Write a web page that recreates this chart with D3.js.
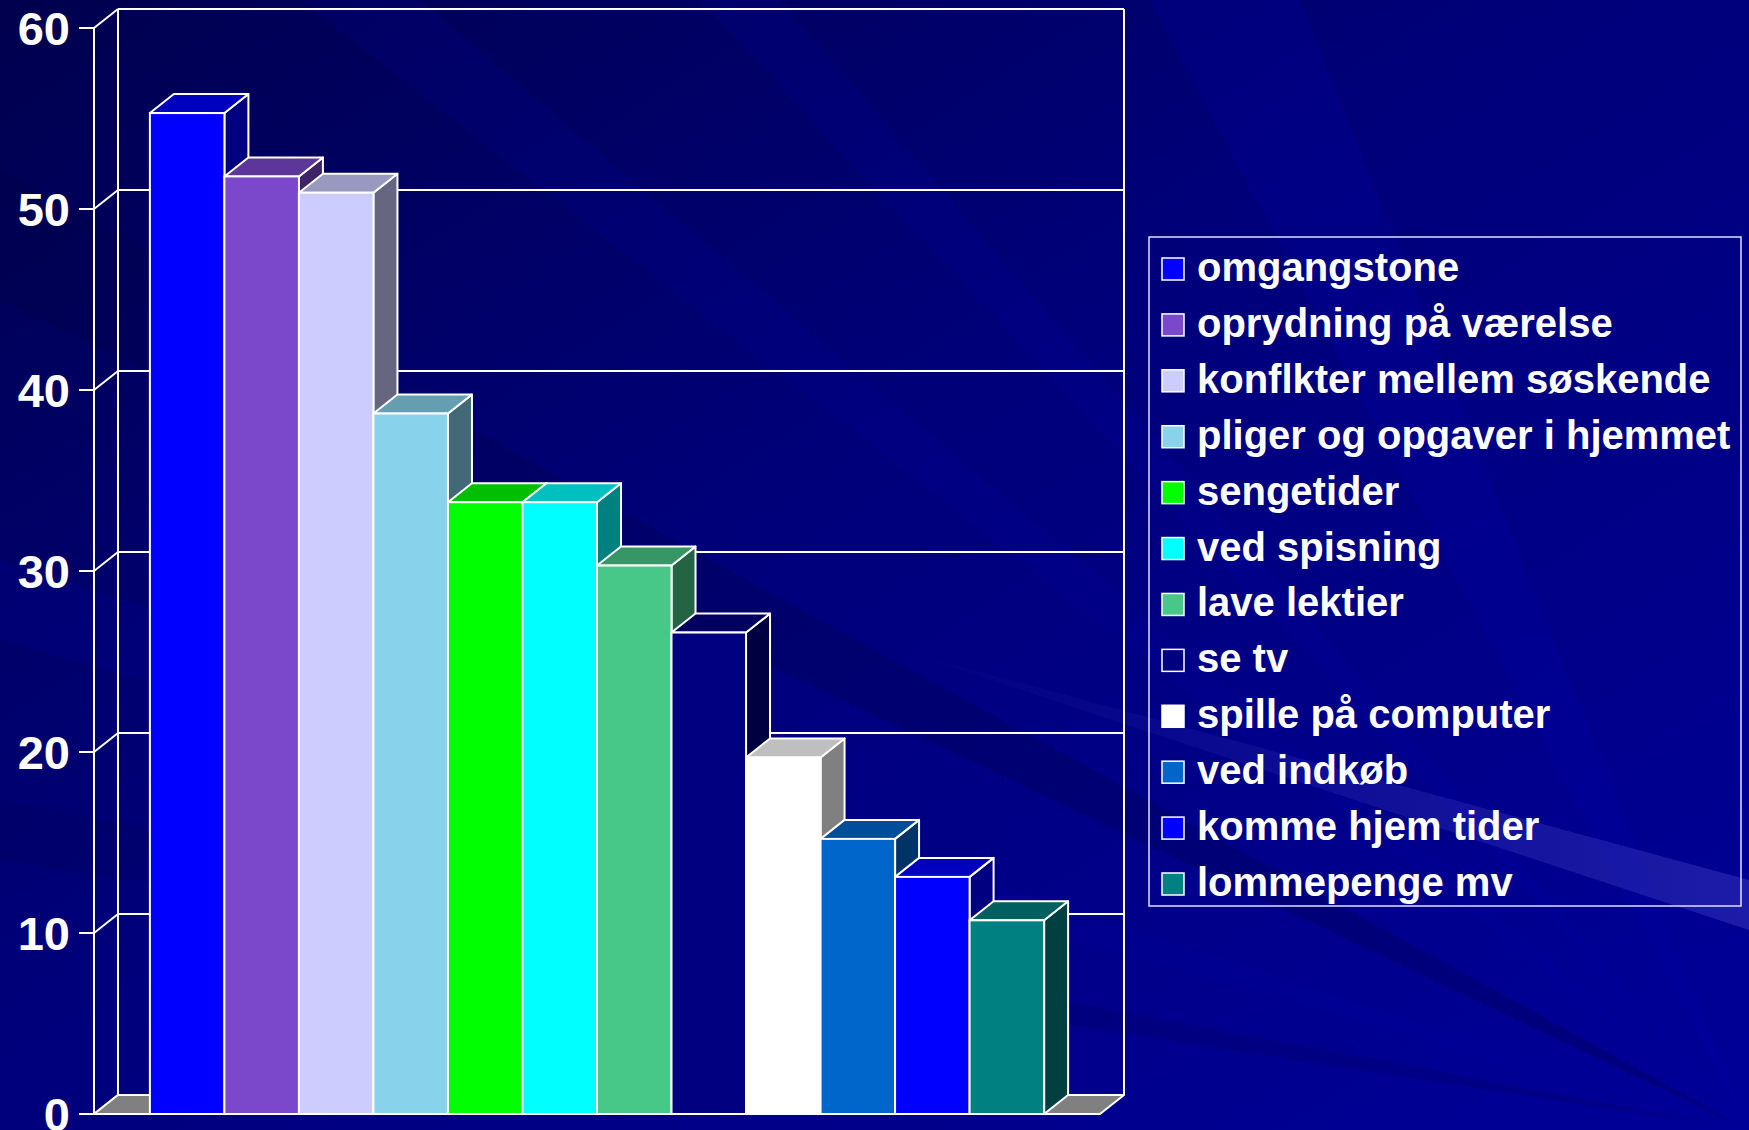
<!DOCTYPE html>
<html><head><meta charset="utf-8">
<script src="https://cdn.jsdelivr.net/npm/d3@7"></script>
<style>html,body{margin:0;padding:0;background:#000080;overflow:hidden}svg{display:block}</style>
</head><body>
<script>
const categories = ["omgangstone","oprydning på værelse","konflkter mellem søskende","pliger og opgaver i hjemmet","sengetider","ved spisning","lave lektier","se tv","spille på computer","ved indkøb","komme hjem tider","lommepenge mv"];
const values = [55.3, 51.8, 50.9, 38.7, 33.8, 33.8, 30.3, 26.6, 19.7, 15.2, 13.1, 10.7];
const colors = ["#0000FF","#7B48CC","#CCCCFF","#88D2EC","#00FF00","#00FFFF","#48C888","#000080","#FFFFFF","#0066CC","#0000FF","#008080"];
const yTicks = [0,10,20,30,40,50,60];

const W = 1749, H = 1130;
const svg = d3.select("body").append("svg").attr("width", W).attr("height", H);

// background
const defs = svg.append("defs");
const bg = defs.append("linearGradient").attr("id","bg").attr("x1","0").attr("y1","0").attr("x2","1").attr("y2","1");
bg.append("stop").attr("offset","0").attr("stop-color","#00004E");
bg.append("stop").attr("offset","0.45").attr("stop-color","#00007A");
bg.append("stop").attr("offset","1").attr("stop-color","#000098");
const lite = defs.append("linearGradient").attr("id","lite").attr("x1","0").attr("y1","0").attr("x2","1").attr("y2","0");
lite.append("stop").attr("offset","0").attr("stop-color","#5050D0").attr("stop-opacity","0");
lite.append("stop").attr("offset","1").attr("stop-color","#5050D0").attr("stop-opacity","0.35");
svg.append("rect").attr("width",W).attr("height",H).attr("fill","url(#bg)");
const streaks = [
  {p:[[1749,1130],[0,560],[0,640]], c:"#0000A0", o:0.2},
  {p:[[1749,1130],[300,0],[420,0]], c:"#0000A8", o:0.15},
  {p:[[1749,1130],[700,0],[780,0]], c:"#0000B0", o:0.15},
  {p:[[1749,1130],[1150,0],[1300,0]], c:"#0000B0", o:0.2},
  {p:[[1749,1130],[0,170],[0,300]], c:"#000040", o:0.25},
  {p:[[1749,1130],[0,800],[0,860]], c:"#000050", o:0.2}
];
svg.append("g").selectAll("polygon").data(streaks).join("polygon")
  .attr("points", d => d.p.map(q => q.join(",")).join(" "))
  .attr("fill", d => d.c).attr("opacity", d => d.o);
svg.append("polygon").attr("points", "900,650 1749,880 1749,930")
  .attr("fill", "url(#lite)");

// scales
const DX = 24, DY = -19;
const y = d3.scaleLinear().domain([0,60]).range([1114, 28]);
const x = d3.scaleBand().domain(categories).range([94, 1100]).paddingInner(0).paddingOuter(0.75);
const xL = 94, xR = 1100;
const stroke = "#FFFFFF", sw = 2;

const g = svg.append("g");
// back wall gridlines
g.selectAll("line.grid").data(yTicks.filter(t => t > 0)).join("line")
  .attr("x1", xL + DX).attr("x2", xR + DX)
  .attr("y1", d => y(d) + DY).attr("y2", d => y(d) + DY)
  .attr("stroke", stroke).attr("stroke-width", sw);
// back wall verticals
[xL + DX, xR + DX].forEach(xx => g.append("line")
  .attr("x1", xx).attr("x2", xx).attr("y1", y(60) + DY).attr("y2", y(0) + DY)
  .attr("stroke", stroke).attr("stroke-width", sw));
// side wall diagonals
g.selectAll("line.diag").data(yTicks).join("line")
  .attr("x1", xL).attr("y1", d => y(d)).attr("x2", xL + DX).attr("y2", d => y(d) + DY)
  .attr("stroke", stroke).attr("stroke-width", sw);
// floor
g.append("polygon")
  .attr("points", [[xL, y(0)], [xR, y(0)], [xR + DX, y(0) + DY], [xL + DX, y(0) + DY]].map(q => q.join(",")).join(" "))
  .attr("fill", "#808080").attr("stroke", stroke).attr("stroke-width", sw).attr("stroke-linejoin","round");
// front axis
g.append("line").attr("x1", xL).attr("x2", xL).attr("y1", y(60)).attr("y2", y(0))
  .attr("stroke", stroke).attr("stroke-width", sw);
g.append("line").attr("x1", xL).attr("x2", xR).attr("y1", y(0)).attr("y2", y(0))
  .attr("stroke", stroke).attr("stroke-width", sw);
g.selectAll("line.tick").data(yTicks).join("line")
  .attr("x1", xL - 15).attr("x2", xL).attr("y1", d => y(d)).attr("y2", d => y(d))
  .attr("stroke", stroke).attr("stroke-width", sw);
g.selectAll("text.tl").data(yTicks).join("text")
  .attr("x", 70).attr("y", d => y(d)).attr("dy", "0.36em")
  .attr("text-anchor", "end").attr("fill", "#FFFFFF")
  .attr("font-family", "'Liberation Sans', Arial, sans-serif").attr("font-weight", "bold").attr("font-size", 47)
  .text(d => d);

// bars
const shade = (c, k) => { const r = d3.rgb(c); return d3.rgb(r.r * k, r.g * k, r.b * k).formatHex(); };
const bars = g.append("g");
categories.forEach((cat, i) => {
  const x0 = x(cat), w = x.bandwidth(), yv = y(values[i]), y0 = y(0);
  const bg_ = bars.append("g");
  bg_.append("polygon")
    .attr("points", [[x0 + w, yv], [x0 + w + DX, yv + DY], [x0 + w + DX, y0 + DY], [x0 + w, y0]].map(q => q.join(",")).join(" "))
    .attr("fill", shade(colors[i], 0.5)).attr("stroke", stroke).attr("stroke-width", sw).attr("stroke-linejoin","round");
  bg_.append("polygon")
    .attr("points", [[x0, yv], [x0 + DX, yv + DY], [x0 + w + DX, yv + DY], [x0 + w, yv]].map(q => q.join(",")).join(" "))
    .attr("fill", shade(colors[i], 0.75)).attr("stroke", stroke).attr("stroke-width", sw).attr("stroke-linejoin","round");
  bg_.append("rect")
    .attr("x", x0).attr("y", yv).attr("width", w).attr("height", y0 - yv)
    .attr("fill", colors[i]).attr("stroke", stroke).attr("stroke-width", sw);
});

// legend
const lg = svg.append("g");
lg.append("rect").attr("x", 1149).attr("y", 237).attr("width", 592).attr("height", 669)
  .attr("fill", "none").attr("stroke", "#E0E0FF").attr("stroke-width", 1.5);
const rowY = d3.scalePoint().domain(categories).range([269, 884]);
categories.forEach((cat, i) => {
  const cy = rowY(cat);
  lg.append("rect").attr("x", 1162).attr("y", cy - 11).attr("width", 22).attr("height", 22)
    .attr("fill", colors[i]).attr("stroke", "#FFFFFF").attr("stroke-width", 1.5);
  lg.append("text").attr("x", 1197).attr("y", cy + 12)
    .attr("fill", "#FFFFFF").attr("font-family", "'Liberation Sans', Arial, sans-serif")
    .attr("font-weight", "bold").attr("font-size", 40).text(cat);
});
</script>
</body></html>
